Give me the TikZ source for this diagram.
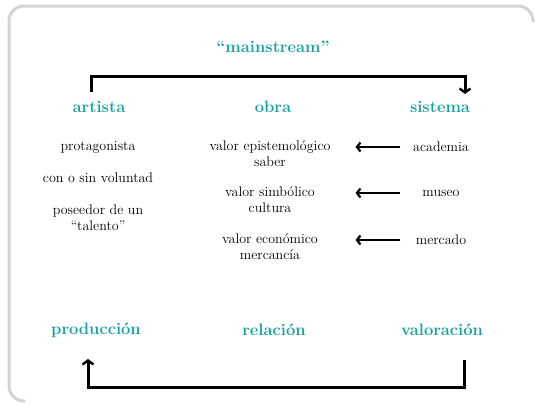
\documentclass[tikz,border=0pt]{standalone}
\usepackage{tikz}
\usetikzlibrary{arrows.meta}
\definecolor{tealtxt}{RGB}{22,160,160}
\tikzset{
  head/.style={text=tealtxt,font=\fontsize{16.5}{19}\selectfont\bfseries},
  item/.style={font=\fontsize{14}{16}\selectfont,align=center},
  value/.style={item,text width=140pt},
  source/.style={item,text width=58pt},
  bracket/.style={line width=3pt,-{Straight Barb[length=4pt,width=11pt,line width=2.4pt]}},
  backarrow/.style={line width=2.6pt,-{Straight Barb[length=3.5pt,width=9pt,line width=2.2pt]},shorten <=8pt,shorten >=12pt},
  frame/.style={draw=black!17,line width=3pt,rounded corners=15pt}
}

\begin{document}
\begin{tikzpicture}[x=1pt,y=-1pt]
	\useasboundingbox (0,0) rectangle (535,405);
	\draw[frame] (25,401) -- (9,401) -- (9,6) -- (533,6) -- (533,22);

	\node[head] (main) at (273,47) {“mainstream”};

	\node[head] (art) at (99,107) {artista};
	\node[head] (obra) at (273,107) {obra};
	\node[head] (sis) at (440,107) {sistema};

	\node[item] (prot) at (98,147) {protagonista};
	\node[item] (vol) at (98,178) {con o sin voluntad};
	\node[item] (tal) at (98,218) {poseedor de un\\“talento”};

	\node[value] (epis) at (270,154) {valor epistemológico\\saber};
	\node[value] (simb) at (270,200) {valor simbólico\\cultura};
	\node[value] (econ) at (270,247) {valor económico\\mercancía};

	\node[source] (aca) at (441,147) {academia};
	\node[source] (mus) at (441,193) {museo};
	\node[source] (mer) at (441,240) {mercado};

	\draw[backarrow] (aca.west) -- (aca.west -| epis.east);
	\draw[backarrow] (mus.west) -- (mus.west -| simb.east);
	\draw[backarrow] (mer.west) -- (mer.west -| econ.east);

	\node[head] (prod) at (96,330) {producción};
	\node[head] (rel) at (274,330) {relación};
	\node[head] (val) at (442,330) {valoración};

	% brackets
	\coordinate (tl) at (91,92);
	\coordinate (tm) at (465,76);
	\coordinate (tr) at (465,94);
	\draw[bracket] (tl) |- (tm) -- (tr);

	\coordinate (br) at (464,360);
	\coordinate (bm) at (88,387);
	\coordinate (bl) at (88,359);
	\draw[bracket] (br) |- (bm) -- (bl);
\end{tikzpicture}
\end{document}
